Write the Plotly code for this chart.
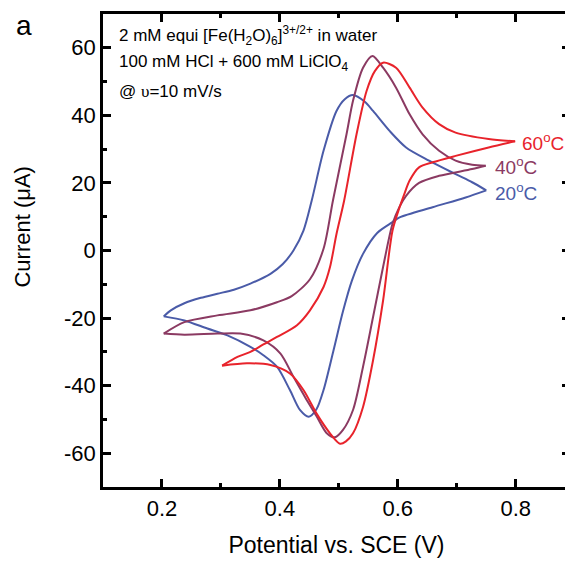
import plotly.graph_objects as go

# Potential (V) / current (uA), forward (upper) and reverse (lower) sweeps
v20_fwd = [0.203, 0.215, 0.238, 0.266, 0.294, 0.322, 0.350, 0.384, 0.405, 0.423, 0.440, 0.454,
           0.474, 0.496, 0.510, 0.524, 0.544, 0.558, 0.586, 0.614, 0.653, 0.698, 0.726, 0.750]
i20_fwd = [-19.5, -17.7, -15.6, -14.0, -12.8, -11.6, -9.8, -6.9, -4.0, 0.0, 5.9, 14.8,
           29.5, 41.3, 44.8, 46.0, 44.0, 41.3, 35.4, 30.5, 26.6, 22.6, 20.2, 17.8]
v20_rev = [0.750, 0.715, 0.659, 0.603, 0.591, 0.565, 0.541, 0.522, 0.507, 0.491, 0.474, 0.462,
           0.449, 0.434, 0.417, 0.395, 0.372, 0.350, 0.311, 0.277, 0.238, 0.203]
i20_rev = [17.8, 15.7, 12.8, 9.8, 8.4, 5.2, -1.0, -9.0, -18.0, -29.5, -41.3, -47.0,
           -49.2, -47.2, -41.3, -34.4, -31.0, -28.5, -25.1, -23.1, -20.7, -19.5]

v40_fwd = [0.203, 0.238, 0.294, 0.350, 0.395, 0.420, 0.451, 0.474, 0.490, 0.513, 0.524, 0.541,
           0.557, 0.575, 0.597, 0.620, 0.642, 0.670, 0.698, 0.726, 0.749]
i40_fwd = [-24.6, -21.2, -19.2, -17.7, -15.3, -13.5, -8.5, 0.5, 14.8, 34.4, 44.3, 54.1,
           57.6, 54.1, 48.2, 40.3, 34.4, 29.5, 26.6, 25.4, 25.1]
v40_rev = [0.749, 0.726, 0.670, 0.636, 0.614, 0.603, 0.591, 0.575, 0.558, 0.541, 0.524, 0.507,
           0.493, 0.479, 0.462, 0.443, 0.423, 0.401, 0.372, 0.333, 0.294, 0.238, 0.203]
i40_rev = [25.1, 24.1, 22.1, 20.0, 16.2, 13.0, 7.9, -4.9, -19.7, -34.4, -47.2, -53.1,
           -55.3, -54.0, -49.0, -43.5, -37.4, -30.5, -26.6, -24.6, -24.6, -24.9, -24.6]

v60_fwd = [0.302, 0.328, 0.350, 0.372, 0.395, 0.429, 0.451, 0.474, 0.485, 0.496, 0.509, 0.530,
           0.547, 0.561, 0.575, 0.597, 0.620, 0.642, 0.670, 0.698, 0.754, 0.799]
i60_fwd = [-34.1, -31.5, -30.0, -27.8, -25.6, -22.1, -17.7, -10.8, -4.9, 4.9, 14.8, 34.4,
           47.2, 53.1, 55.6, 54.1, 48.2, 42.3, 37.4, 34.9, 33.0, 32.3]
v60_rev = [0.799, 0.754, 0.698, 0.659, 0.636, 0.620, 0.611, 0.603, 0.591, 0.575, 0.558, 0.541,
           0.524, 0.512, 0.502, 0.485, 0.462, 0.440, 0.417, 0.384, 0.344, 0.302]
i60_rev = [32.3, 30.5, 28.0, 26.1, 24.6, 20.7, 16.7, 12.8, 5.9, -14.8, -32.5, -46.3,
           -54.1, -56.5, -57.2, -54.1, -48.2, -41.3, -36.4, -33.9, -33.4, -34.1]

temps = ["20", "40", "60"]
colors = ["#4A5BA8", "#8B3A62", "#E8232B"]
label_pos = [(0.762, 17.2), (0.762, 25.1), (0.808, 32.2)]
curves = [
    (v20_fwd, i20_fwd, v20_rev, i20_rev),
    (v40_fwd, i40_fwd, v40_rev, i40_rev),
    (v60_fwd, i60_fwd, v60_rev, i60_rev),
]

x_ticks = [0.2, 0.4, 0.6, 0.8]
y_ticks = [-60, -40, -20, 0, 20, 40, 60]

font = "Liberation Sans, Arial, sans-serif"
fig = go.Figure()

for (vf, jf, vr, jr), c in zip(curves, colors):
    for xs, ys in ((vf, jf), (vr, jr)):
        fig.add_trace(go.Scatter(x=xs, y=ys, mode="lines",
                                 line=dict(color=c, width=2, shape="spline", smoothing=0.8),
                                 showlegend=False, hoverinfo="skip"))

# temperature labels next to the switching points
for t, c, (lx, ly) in zip(temps, colors, label_pos):
    fig.add_annotation(x=lx, y=ly, text=f"{t}<sup>o</sup>C", showarrow=False,
                       xanchor="left", yanchor="middle",
                       font=dict(family=font, size=19, color=c))

notes = [
    "2 mM equi [Fe(H<sub>2</sub>O)<sub>6</sub>]<sup>3+/2+</sup> in water",
    "100 mM HCl + 600 mM LiClO<sub>4</sub>",
    "@ <span style='font-family:Liberation Serif'>υ</span>=10 mV/s",
]
for k, txt in enumerate(notes):
    fig.add_annotation(x=0.124, y=[63.5, 55.5, 47.2][k], text=txt, showarrow=False,
                       xanchor="left", yanchor="middle",
                       font=dict(family=font, size=17, color="black"))

fig.add_annotation(x=-0.191, y=0.975, xref="paper", yref="paper", text="a",
                   showarrow=False, xanchor="left", yanchor="middle",
                   font=dict(family=font, size=28, color="black"))
fig.add_annotation(x=-0.172, y=0.55, xref="paper", yref="paper", text="Current (μA)",
                   textangle=-90, showarrow=False, xanchor="center", yanchor="middle",
                   font=dict(family=font, size=22, color="black"))

axis_common = dict(showline=True, linecolor="black", linewidth=2.5, mirror="allticks",
                   ticks="inside", ticklen=8, tickwidth=2.5, tickcolor="black",
                   showgrid=False, zeroline=False,
                   tickfont=dict(family=font, size=22, color="black"))

fig.update_xaxes(range=[0.1, 0.892], tickvals=x_ticks,
                 ticktext=[f"{v:.1f}" for v in x_ticks],
                 minor=dict(ticks="inside", ticklen=4, tickwidth=2.5, tickcolor="black",
                            dtick=0.1, tick0=0.1),
                 title=dict(text="Potential vs. SCE (V)", standoff=17,
                            font=dict(family=font, size=23, color="black")),
                 **axis_common)
fig.update_yaxes(range=[-70, 70], tickvals=y_ticks,
                 ticktext=[str(v) for v in y_ticks],
                 minor=dict(ticks="inside", ticklen=4, tickwidth=2.5, tickcolor="black",
                            dtick=10, tick0=0),
                 **axis_common)

# page body has an 8px margin, so the figure is sized and padded to land on the window
fig.update_layout(width=565, height=554, margin=dict(l=95, r=0, t=6, b=75),
                  plot_bgcolor="white", paper_bgcolor="white")

fig.write_html("out.html")
